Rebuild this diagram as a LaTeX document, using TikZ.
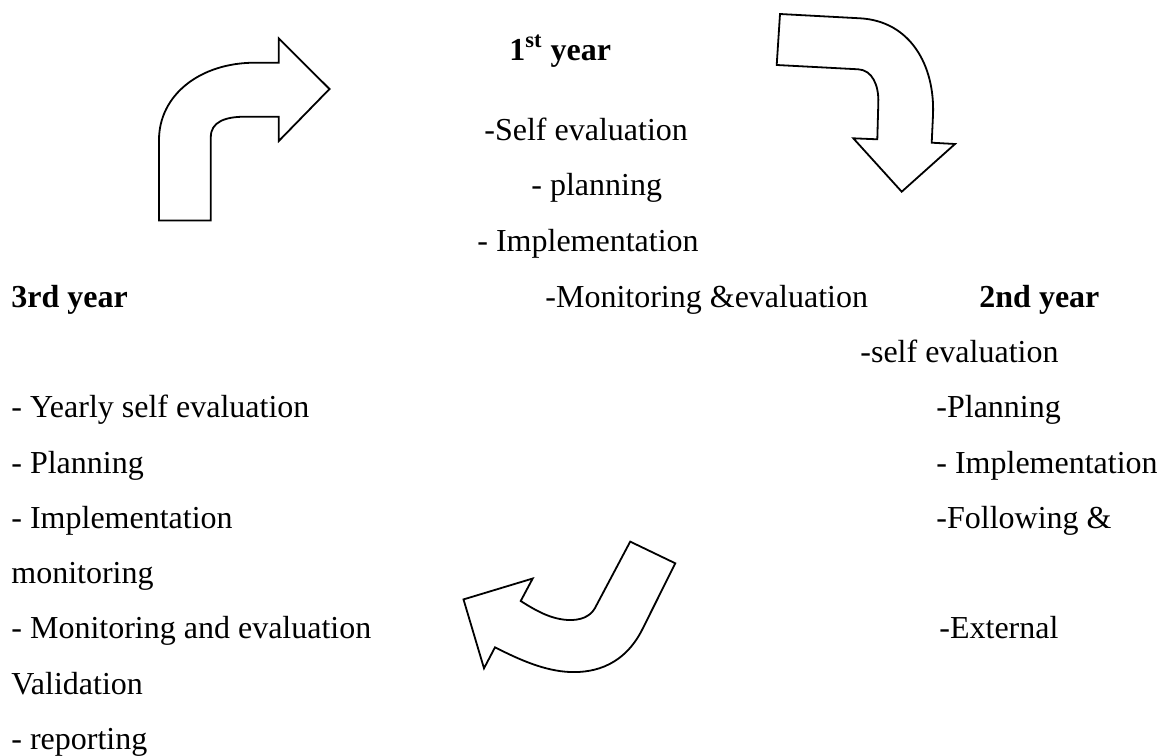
\documentclass[tikz,border=0pt]{standalone}
\usepackage{fontspec}
\setmainfont{Liberation Serif}
\usetikzlibrary{positioning}
\tikzset{line node/.style={anchor=base west,inner sep=0pt,font=\fontsize{16}{19}\selectfont},
year node/.style={line node,font=\fontsize{16}{19}\selectfont\bfseries},
bent arrow/.style={draw,line width=0.9pt,fill=white},
}

\begin{document}
\begin{tikzpicture}[x=0.5pt,y=-0.5pt]
	\useasboundingbox (0,0) rectangle (1160,755);
	\node[year node] (y1) at (509,60) {1\textsuperscript{st} year};
	\node[line node] (s1) at (484,140) {-Self evaluation};
	\node[line node] (p1) at (531,195) {- planning};
	\node[line node] (i1) at (477,251) {- Implementation};
	\node[line node] (m1) at (545,307) {-Monitoring \&evaluation};
	
	\node[year node] (y2) at (979,307) {2nd year};
	\node[line node] (s2) at (860,362) {-self evaluation};
	\node[line node] (p2) at (936,417) {-Planning};
	\node[line node] (i2) at (936,473) {- Implementation};
	\node[line node] (f2) at (936,528) {-Following \&};
	\node[line node] (e2) at (939,638) {-External};
	
	\node[year node] (y3) at (11,307) {3rd year};
	\node[line node] (s3) at (11,417) {- Yearly self evaluation};
	\node[line node] (p3) at (11,473) {- Planning};
	\node[line node] (i3) at (11,528) {- Implementation};
	\node[line node] (m3) at (11,583) {monitoring};
	\node[line node] (me3) at (11,638) {- Monitoring and evaluation};
	\node[line node] (v3) at (11,694) {Validation};
	\node[line node] (r3) at (11,749) {- reporting};
	
	\draw[bent arrow] (159,220.5) -- (159,140) .. controls (159,95) and (200,62.7) .. (255,62.7)
		-- (278.8,62.7) -- (278.8,38.5) -- (329.5,89) -- (278.8,141) -- (278.8,116.7)
		-- (245,116.7) .. controls (225,116.7) and (210.8,122) .. (210.8,137) -- (210.8,220.5) -- cycle;
	\draw[bent arrow] (780,14) -- (860,18.3) .. controls (910,21) and (935,65) .. (933,115)
		-- (931.7,142.7) -- (955,144) -- (901.7,191.7) -- (853.3,138.3) -- (877.3,139.3)
		-- (878.3,103) .. controls (879,85) and (872,70) .. (858.3,69.3) -- (776.7,65) -- cycle;
	\draw[bent arrow] (630.2,541.6) -- (675.3,563.3) -- (643,628) .. controls (625,665) and (595,673) .. (570,672)
		.. controls (545,671) and (520,660) .. (495,647.3) -- (484,668.3) -- (463.5,599.4) -- (532.7,578.5)
		-- (520.7,601) .. controls (535,610) and (550,619) .. (568,620) .. controls (580,620.5) and (590,617) .. (595,608) -- cycle;
\end{tikzpicture}
\end{document}
